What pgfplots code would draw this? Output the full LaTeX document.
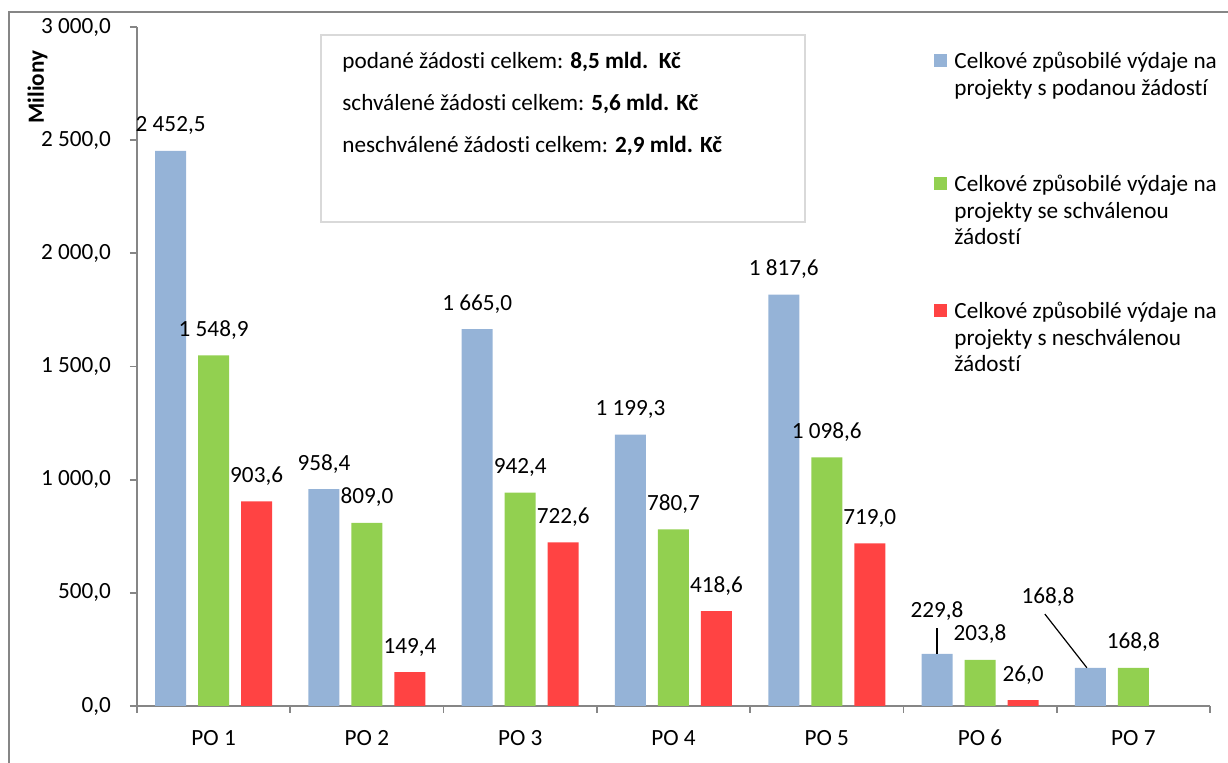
\documentclass[border=0pt]{standalone}
\usepackage{fontspec}
\setmainfont{Carlito}[Ligatures=NoCommon]
\usepackage{pgfplots}
\pgfplotsset{compat=1.18}
\definecolor{podane}{HTML}{95B3D7}
\definecolor{schval}{HTML}{92D050}
\definecolor{neschval}{HTML}{FF4343}
\definecolor{osa}{HTML}{868686}
\definecolor{ramec}{HTML}{D9D9D9}
\newcommand{\dva}[2]{\begin{tabular}[t]{@{}l@{}}#1\\#2\end{tabular}}
\newcommand{\tri}[3]{\begin{tabular}[t]{@{}l@{}}#1\\#2\\#3\end{tabular}}

\begin{document}
\fontsize{11.6}{13.35}\selectfont
\begin{tikzpicture}
\begin{axis}[name=ax,at={(0,0)},anchor=south west,scale only axis,width=536.5pt,height=339.5pt,clip=false,
  xmin=0.5,xmax=7.5,ymin=0,ymax=3000,
  ybar=6pt,bar width=15.5pt,
  axis x line*=bottom,axis y line*=left,axis line style={osa,line width=0.9pt,-},
  xtick={1,...,7},xticklabels={PO 1,PO 2,PO 3,PO 4,PO 5,PO 6,PO 7},
  minor xtick={0.5,1.5,...,7.5},
  ytick={0,500,...,3000},
  yticklabels={{0,0},{500,0},{1 000,0},{1 500,0},{2 000,0},{2 500,0},{3 000,0}},
  xticklabel style={yshift=-4.5pt},yticklabel style={xshift=-5.5pt},
  tick align=outside,major tick length=3.5pt,minor tick length=3.5pt,
  tick style={osa,line width=0.9pt},major x tick style={draw=none},
  nodes near coords,point meta=explicit symbolic,
  every node near coord/.append style={anchor=base,inner sep=0pt,yshift=9.5pt,text=black},
  every axis plot post/.append style={legend image code/.code={\fill[##1] (0pt,0.5pt) rectangle (6.5pt,7pt);}},
  legend cell align=left,
  legend style={at={(0.7428,0.966)},anchor=north west,draw=none,fill=none,inner sep=0pt,
    row sep=0pt,column sep=0pt,cells={anchor=base west},
    nodes={inner xsep=3.5pt,inner ysep=0pt,text height=9pt,font=\fontsize{11.6}{13.35}\selectfont}},
]
\addplot[fill=podane,draw=none] coordinates {(1,2452.5) [2 452,5] (2,958.4) [958,4] (3,1665.0) [1 665,0] (4,1199.3) [1 199,3] (5,1817.6) [1 817,6] (6,229.8) [] (7,168.8) []};
\addplot[fill=schval,draw=none] coordinates {(1,1548.9) [1 548,9] (2,809.0) [809,0] (3,942.4) [942,4] (4,780.7) [780,7] (5,1098.6) [1 098,6] (6,203.8) [203,8] (7,168.8) [168,8]};
\addplot[fill=neschval,draw=none] coordinates {(1,903.6) [903,6] (2,149.4) [149,4] (3,722.6) [722,6] (4,418.6) [418,6] (5,719.0) [719,0] (6,26.0) [26,0]};
\addlegendentry[text depth=52.5pt]{\dva{Celkové způsobilé výdaje na}{projekty s podanou žádostí}}
\addlegendentry[text depth=54.5pt]{\tri{Celkové způsobilé výdaje na}{projekty se schválenou}{žádostí}}
\addlegendentry[text depth=30pt]{\tri{Celkové způsobilé výdaje na}{projekty s neschválenou}{žádostí}}
% odsazené popisky s vodicí čarou
\draw[black,line width=0.6pt] (axis cs:5.7195,229.8) -- (axis cs:5.7195,345);
\node[anchor=base,inner sep=0pt] at (axis cs:5.719,393) {229,8};
\draw[black,line width=0.6pt] (axis cs:6.697,168.8) -- (axis cs:6.423,406);
\node[anchor=base,inner sep=0pt] at (axis cs:6.443,455) {168,8};
\end{axis}
\begin{scope}[x=0.5pt,y=-0.5pt,shift={(-68.5pt,353pt)}]
\draw[osa,line width=0.75pt] (9,763) -- (9,12) -- (1228,12);
\draw[ramec,line width=0.75pt] (321,35) rectangle (805,222);
\node[anchor=base west,inner sep=0pt] at (342,69) {podané žádosti celkem: \textbf{8,5 mld.\ \ Kč}};
\node[anchor=base west,inner sep=0pt] at (342,111) {schválené žádosti celkem: \textbf{5,6 mld. Kč}};
\node[anchor=base west,inner sep=0pt] at (342,153) {neschválené žádosti celkem: \textbf{2,9 mld. Kč}};
\node[rotate=90,inner sep=0pt,font=\bfseries] at (37.5,87) {Miliony};
\pgfresetboundingbox
\useasboundingbox (0,0) rectangle (1228,763);
\end{scope}
\end{tikzpicture}
\end{document}
